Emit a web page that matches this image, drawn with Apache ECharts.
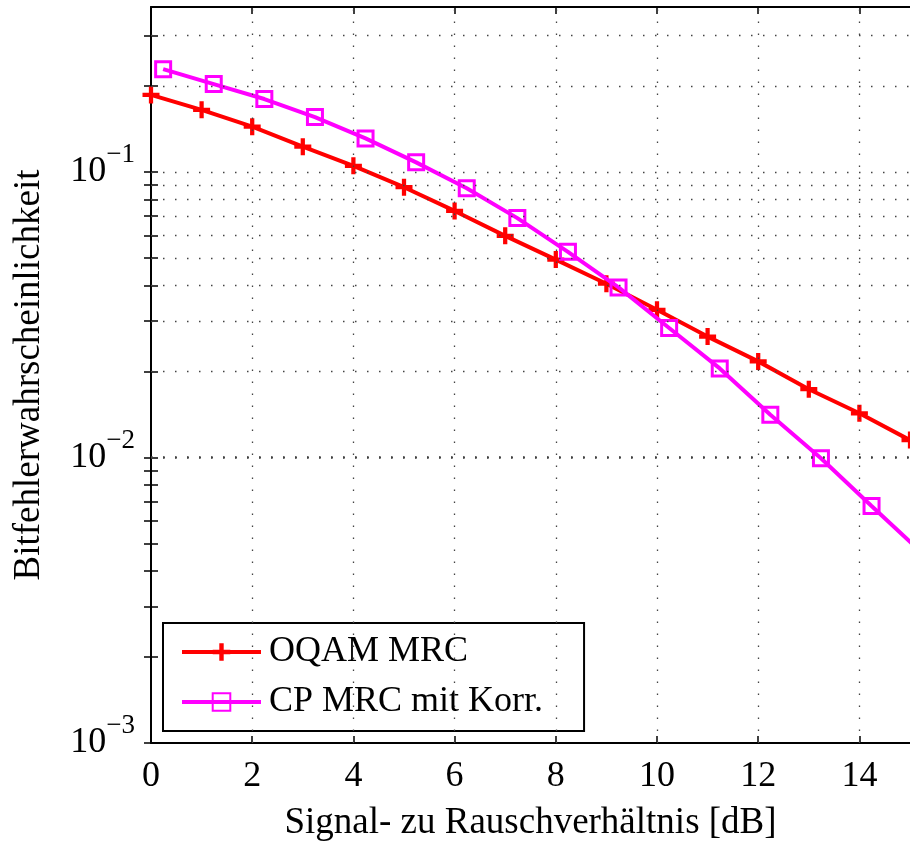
<!DOCTYPE html>
<html><head><meta charset="utf-8">
<script src="https://cdn.jsdelivr.net/npm/echarts@6/dist/echarts.min.js"></script>
<style>html,body{margin:0;padding:0;background:#fff}#c{width:910px;height:849px}</style>
</head><body><div id="c"></div>
<script>
const oqamX = [0,1,2,3,4,5,6,7,8,9,10,11,12,13,14,15];
const oqamBER = [0.186,0.165,0.144,0.1226,0.105,0.0884,0.073,0.0597,0.0493,0.0406,0.0329,0.0265,0.0217,0.01734,0.01428,0.0115];
const cpX = [0.24,1.24,2.24,3.24,4.24,5.24,6.24,7.24,8.24,9.24,10.24,11.24,12.24,13.24,14.24,15.24];
const cpBER = [0.229,0.203,0.180,0.1556,0.131,0.108,0.0877,0.0689,0.0525,0.0394,0.0284,0.0205,0.0141,0.00993,0.00676,0.00463];
const xTicks = [0,2,4,6,8,10,12,14];
const xGrid = [2,4,6,8,10,12,14];
const yMajor = [0.001,0.01,0.1];
const yAllTicks = [0.001,0.002,0.003,0.004,0.005,0.006,0.007,0.008,0.009,
  0.01,0.02,0.03,0.04,0.05,0.06,0.07,0.08,0.09,0.1,0.2,0.3];
const yGrid = yAllTicks.filter(v => v > 0.0015);
const seriesNames = ['OQAM MRC','CP MRC mit Korr.'];
const yTitle = 'Bitfehlerwahrscheinlichkeit';
const xTitle = 'Signal- zu Rauschverhältnis [dB]';

const FONT = '"Liberation Serif", "Times New Roman", serif';
const plus = 'path://M3,0H5V3H8V5H5V8H3V5H0V3H3Z';

const chart = echarts.init(document.getElementById('c'), null, {renderer:'canvas'});
const tickStyle = {inside:true, length:7, lineStyle:{color:'#000', width:1.5}};
const yBase = {type:'log', logBase:10, min:0.001, max:0.378};
chart.setOption({
  animation:false,
  backgroundColor:'#fff',
  grid:{left:151, right:0, top:7, bottom:106, containLabel:false},
  xAxis:[
    {type:'value', min:0, max:15, interval:2, position:'bottom',
     name:xTitle, nameLocation:'middle', nameGap:62,
     nameTextStyle:{fontFamily:FONT, fontSize:37, color:'#000'},
     axisLine:{show:true, onZero:false, lineStyle:{color:'#000', width:2}},
     axisTick:Object.assign({customValues:xTicks}, tickStyle),
     axisLabel:{customValues:xTicks, margin:16, fontFamily:FONT, fontSize:36, color:'#000'},
     splitLine:{show:false}},
    {type:'value', min:0, max:15, interval:2, position:'top',
     axisLine:{show:true, onZero:false, lineStyle:{color:'#000', width:2}},
     axisTick:Object.assign({customValues:xTicks}, tickStyle),
     axisLabel:{show:false}, splitLine:{show:false}}
  ],
  yAxis:[
    Object.assign({position:'left',
     name:yTitle, nameLocation:'middle', nameGap:103,
     nameTextStyle:{fontFamily:FONT, fontSize:37, color:'#000'},
     axisLine:{show:true, onZero:false, lineStyle:{color:'#000', width:2}},
     axisTick:Object.assign({customValues:yAllTicks}, tickStyle),
     axisLabel:{customValues:yMajor, margin:16,
       formatter: v => '{b|10}{s|−' + (-Math.round(Math.log10(v))) + '}',
       rich:{b:{fontFamily:FONT, fontSize:36, color:'#000'},
             s:{fontFamily:FONT, fontSize:27, color:'#000', padding:[0,0,34,0]}}},
     splitLine:{show:false}}, yBase),
    Object.assign({position:'right',
     axisLine:{show:false},
     axisTick:Object.assign({customValues:yAllTicks}, tickStyle),
     axisLabel:{show:false}, splitLine:{show:false}}, yBase)
  ],
  legend:{
    left:163, top:623, orient:'vertical',
    backgroundColor:'#fff', borderColor:'#000', borderWidth:2,
    padding:[11,41,11,17], itemGap:14, itemWidth:79, itemHeight:22,
    lineStyle:{width:4},
    textStyle:{fontFamily:FONT, fontSize:36, color:'#000', padding:[0,0,0,3]},
    data:seriesNames
  },
  series:[
    {type:'line', name:'grid', data:[], silent:true, z:1,
     markLine:{silent:true, symbol:'none', animation:false,
       label:{show:false},
       lineStyle:{color:'#444', width:1.3, type:[1.5,10.5]},
       data: yGrid.map(v => ({yAxis:v})).concat(xGrid.map(v => ({xAxis:v})))}},
    {type:'line', name:seriesNames[0], data: oqamX.map((x,i) => [x, oqamBER[i]]),
     z:3, lineStyle:{color:'#ff0000', width:4}, itemStyle:{color:'#ff0000'},
     symbol:plus, symbolSize:17, showAllSymbol:true},
    {type:'line', name:seriesNames[1], data: cpX.map((x,i) => [x, cpBER[i]]),
     z:4, lineStyle:{color:'#ff00ff', width:4},
     itemStyle:{color:'rgba(0,0,0,0)', borderColor:'#ff00ff', borderWidth:3},
     symbol:'rect', symbolSize:15, showAllSymbol:true}
  ]
});
</script></body></html>
